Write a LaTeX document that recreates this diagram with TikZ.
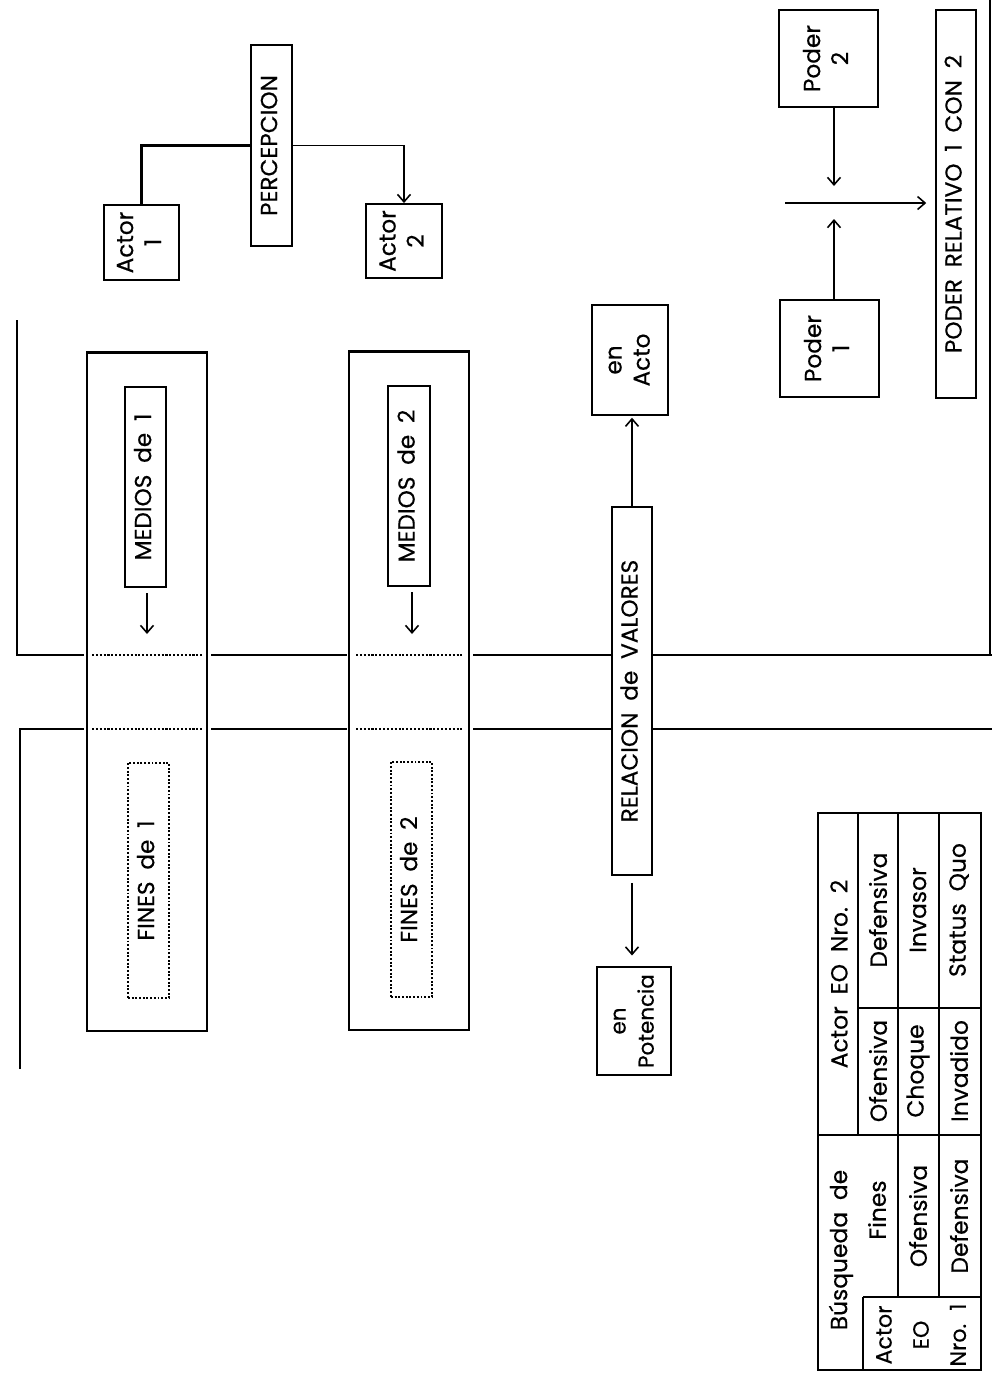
\documentclass[tikz,border=0pt]{standalone}
\usepackage{fontspec}
\setmainfont{Poppins}[WordSpace=1.9, FakeBold=0.4]
\usepackage{graphicx}
\usetikzlibrary{arrows.meta}
\newcommand{\vtxt}[1]{\rotatebox{90}{\begin{tabular}{@{}c@{}}#1\end{tabular}}}
\tikzset{
  box/.style={draw, line width=1.1pt, inner sep=0pt, font=\fontsize{13.2pt}{16pt}\selectfont},
  dotbox/.style={box, densely dotted, line width=1.2pt},
  tabtxt/.style={inner sep=0pt, font=\fontsize{13.3pt}{15pt}\selectfont},
  thick line/.style={line width=1.5pt},
  conn/.style={line width=0.9pt},
  arr/.style={conn, -{Straight Barb[length=1.5mm,width=2.6mm]}},
  dotline/.style={line width=1.2pt, densely dotted},
  tabline/.style={line width=0.8pt},
}
\begin{document}
\begin{tikzpicture}[x=0.02cm,y=-0.02cm]
\useasboundingbox[fill=white] (0,0) rectangle (992,1374);

% ---- top area: perception
\node[box, minimum width=0.82cm, minimum height=4.02cm] (percep) at (271.5,145.5) {\vtxt{PERCEPCION}};
\node[box, minimum width=1.5cm, minimum height=1.5cm] (actor1) at (141.5,242.5) {\vtxt{Actor\\1}};
\node[box, minimum width=1.52cm, minimum height=1.48cm] (actor2) at (404,241) {\vtxt{Actor\\2}};
\draw[line width=1.6pt] (percep.west) -| (actor1.north);
\draw[arr] (percep.east) -| (actor2.north);

% ---- big boxes (means / ends)
\node[draw, line width=1.1pt, minimum width=2.4cm, minimum height=13.56cm, inner sep=0pt] (big1) at (147,692) {};
\node[draw, line width=1.1pt, minimum width=2.4cm, minimum height=13.56cm, inner sep=0pt] (big2) at (409,691) {};
\draw[line width=1.6pt] (big1.north west) -- (big1.north east);
\draw[line width=1.6pt] (big2.north west) -- (big2.north east);

\node[box, minimum width=0.82cm, minimum height=4.0cm] (medios1) at (145.5,487) {\vtxt{MEDIOS de 1}};
\node[box, minimum width=0.84cm, minimum height=4.0cm] (medios2) at (409,486) {\vtxt{MEDIOS de 2}};
\node[dotbox, minimum width=0.82cm, minimum height=4.7cm] (fines1) at (148.5,880.5) {\vtxt{FINES de 1}};
\node[dotbox, minimum width=0.82cm, minimum height=4.7cm] (fines2) at (411.5,879.5) {\vtxt{FINES de 2}};

\coordinate (m1end) at (147,634);
\coordinate (m2end) at (412,634);
\draw[arr, shorten <=3pt] (medios1.south -| m1end) -- (m1end);
\draw[arr, shorten <=3pt] (medios2.south -| m2end) -- (m2end);

% ---- relation of values
\node[box, minimum width=0.8cm, minimum height=7.36cm] (relacion) at (632,691) {\vtxt{RELACION de VALORES}};
\node[box, minimum width=1.52cm, minimum height=2.2cm] (acto) at (630,360) {\vtxt{en\\Acto}};
\node[box, minimum width=1.48cm, minimum height=2.16cm, font=\fontsize{12.2pt}{16pt}\selectfont] (potencia) at (634,1021) {\vtxt{en\\Potencia}};
\draw[arr, shorten >=1pt] (relacion.north) -- (relacion.north |- acto.south);
\draw[arr, shorten <=4pt, shorten >=6pt] (relacion.south) -- (relacion.south |- potencia.north);

% ---- boundary lines
\coordinate (tl) at (17,320);
\coordinate (bl) at (20,1069);
\coordinate (rt) at (990,0);
\draw[thick line] (tl) -- (17,655) -- (84,655);
\draw[dotline] (92,655) -- (202,655);
\draw[thick line] (211,655) -- (347,655);
\draw[dotline] (356,655) -- (464,655);
\draw[thick line] (473,655) -- (relacion.west |- 0,655);
\draw[thick line] (relacion.east |- 0,655) -- (992,655);
\draw[thick line] (bl) -- (20,729) -- (84,729);
\draw[dotline] (92,729) -- (202,729);
\draw[thick line] (211,729) -- (347,729);
\draw[dotline] (356,729) -- (464,729);
\draw[thick line] (473,729) -- (relacion.west |- 0,729);
\draw[thick line] (relacion.east |- 0,729) -- (992,729);
\draw[line width=1.2pt] (rt) -- (990,655);

% ---- power
\node[box, minimum width=1.98cm, minimum height=1.94cm] (poder1) at (829.5,348.5) {\vtxt{Poder\\1}};
\node[box, minimum width=1.98cm, minimum height=1.94cm] (poder2) at (828.5,58.5) {\vtxt{Poder\\2}};
\node[box, minimum width=0.8cm, minimum height=7.76cm] (podrel) at (956,204) {\vtxt{PODER RELATIVO 1 CON 2}};
\coordinate (p1end) at (834,219);
\coordinate (p2end) at (834,186);
\coordinate (hstart) at (785,203);
\draw[arr] (poder1.north -| p1end) -- (p1end);
\draw[arr] (poder2.south -| p2end) -- (p2end);
\draw[arr, shorten >=5pt] (hstart) -- (hstart -| podrel.west);

% ---- table
\draw[line width=1.1pt] (818,813) rectangle (981,1370);
\draw[tabline] (858,813) -- (858,1135);
\draw[tabline] (818,1135) -- (981,1135);
\draw[tabline] (858,1008) -- (981,1008);
\draw[tabline] (898,813) -- (898,1297);
\draw[tabline] (939,813) -- (939,1297);
\draw[tabline] (863,1297) -- (981,1297);
\draw[tabline] (863,1297) -- (863,1370);

\node[tabtxt] (t1) at (839,974) {\rotatebox{90}{Actor EO Nro. 2}};
\node[tabtxt] (t2) at (841,1250) {\rotatebox{90}{Búsqueda de}};
\node[tabtxt] (t3) at (877,1210) {\rotatebox{90}{Fines}};
\node[tabtxt] (t4) at (878,1071) {\rotatebox{90}{Ofensiva}};
\node[tabtxt] (t5) at (878,910) {\rotatebox{90}{Defensiva}};
\node[tabtxt] (t6) at (918,1216) {\rotatebox{90}{Ofensiva}};
\node[tabtxt] (t7) at (918,1071) {\rotatebox{90}{Choque}};
\node[tabtxt] (t8) at (918,910) {\rotatebox{90}{Invasor}};
\node[tabtxt] (t9) at (959,1216) {\rotatebox{90}{Defensiva}};
\node[tabtxt] (t10) at (959,1071) {\rotatebox{90}{Invadido}};
\node[tabtxt] (t11) at (959,910) {\rotatebox{90}{Status Quo}};
\node[tabtxt, font=\fontsize{12.6pt}{15pt}\selectfont] (t12) at (884,1335) {\rotatebox{90}{Actor}};
\node[tabtxt, font=\fontsize{12.6pt}{15pt}\selectfont] (t13) at (921,1335) {\rotatebox{90}{EO}};
\node[tabtxt, font=\fontsize{12.6pt}{15pt}\selectfont] (t14) at (958,1335) {\rotatebox{90}{Nro. 1}};
\end{tikzpicture}
\end{document}
